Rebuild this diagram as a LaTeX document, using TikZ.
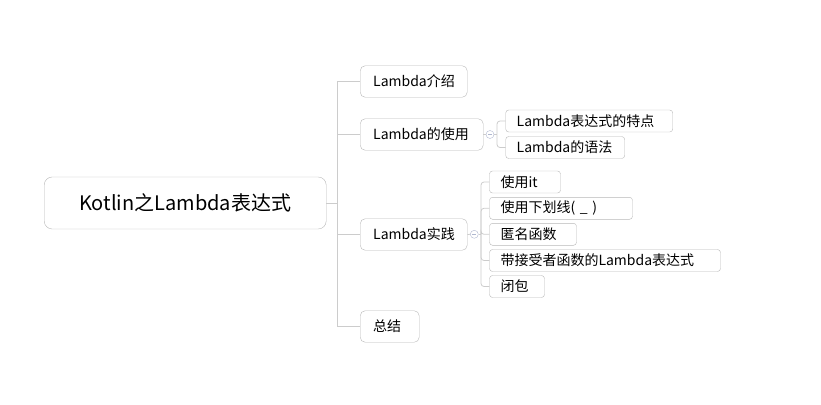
\documentclass[tikz,border=0pt]{standalone}
\usepackage{fontspec}
\setmainfont{Noto Sans CJK SC}
\usetikzlibrary{calc}

\definecolor{linea}{RGB}{204,204,204}
\definecolor{bordo}{RGB}{184,184,184}
\definecolor{cerchio}{RGB}{176,184,208}

\tikzset{
	radice/.style={draw=bordo, fill=white, rounded corners=8pt, anchor=west, inner sep=0pt, minimum height=52pt, font=\fontsize{20}{24}\selectfont},
	ramo/.style={draw=bordo, fill=white, rounded corners=5pt, anchor=west, inner xsep=13pt, inner ysep=0pt, minimum height=31.5pt, align=left, font=\fontsize{14}{16}\selectfont},
	foglia/.style={draw=bordo, fill=white, rounded corners=3pt, anchor=west, inner xsep=11pt, inner ysep=0pt, minimum height=22pt, align=left, font=\fontsize{14}{16}\selectfont},
	piega/.style={draw=cerchio, fill=white, circle, inner sep=0pt, minimum size=8pt},
	conn/.style={draw=linea, line width=0.8pt},
}

\begin{document}
\begin{tikzpicture}[x=1pt, y=-1pt]
			\useasboundingbox (0,0) rectangle (821,404);
			
			% Punti di diramazione
			\coordinate (tronco) at (337, 203);
			\coordinate (forkuso) at (497, 134.5);
			\coordinate (forkprat) at (481, 234.3);
			
			% Nodo radice
			\node[radice, minimum width=282pt] (radice) at (44, 203) {Kotlin之Lambda表达式};
			
			% Rami di primo livello (larghezza = text width + 26pt)
			\node[ramo, text width=81pt] (intro) at (360, 81.5) {Lambda介绍};
			\node[ramo, text width=97pt] (uso) at (360, 134.5) {Lambda的使用};
			\node[ramo, text width=81pt] (pratica) at (360, 234.5) {Lambda实践};
			\node[ramo, text width=33pt] (sommario) at (360, 326.5) {总结};
			
			% Foglie sotto "uso" (larghezza = text width + 22pt)
			\node[foglia, text width=145pt] (caratt) at (505.5, 121) {Lambda表达式的特点};
			\node[foglia, text width=97pt] (sintassi) at (505.5, 147.5) {Lambda的语法};
			
			% Foglie sotto "pratica"
			\node[foglia, text width=49pt] (usait) at (489.3, 182) {使用it};
			\node[foglia, text width=121pt] (trattino) at (489.3, 208.3) {使用下划线( \_ )};
			\node[foglia, text width=65pt] (anonima) at (489.3, 234.3) {匿名函数};
			\node[foglia, text width=209pt] (ricevente) at (489.3, 260.5) {带接受者函数的Lambda表达式};
			\node[foglia, text width=33pt] (chiusura) at (489.3, 286.5) {闭包};
			
			% Cerchi di chiusura (segno meno)
			\node[piega] (pieguso) at (490, 134.5) {};
			\node[piega] (piegprat) at (474.3, 234.3) {};
			\draw[cerchio, line width=0.6pt] ($(pieguso)+(-2,0)$) -- ($(pieguso)+(2,0)$);
			\draw[cerchio, line width=0.6pt] ($(piegprat)+(-2,0)$) -- ($(piegprat)+(2,0)$);
			
			% Collegamenti radice -> primo livello
			\draw[conn] (radice.east) -- (tronco);
			\draw[conn] (tronco) |- (intro.west);
			\draw[conn] (tronco) |- (uso.west);
			\draw[conn] (tronco) |- (pratica.west);
			\draw[conn] (tronco) |- (sommario.west);
			
			% Collegamenti primo livello -> foglie
			\draw[conn] (uso.east) -- (pieguso.west);
			\draw[conn] (pieguso.east) -- (forkuso);
			\draw[conn, rounded corners=3pt] (forkuso) |- (caratt.west);
			\draw[conn, rounded corners=3pt] (forkuso) |- (sintassi.west);
			\draw[conn] (pratica.east) -- (piegprat.west);
			\draw[conn] (piegprat.east) -- (forkprat);
			\draw[conn, rounded corners=3pt] (forkprat) |- (usait.west);
			\draw[conn, rounded corners=3pt] (forkprat) |- (trattino.west);
			\draw[conn, rounded corners=3pt] (forkprat) |- (anonima.west);
			\draw[conn, rounded corners=3pt] (forkprat) |- (ricevente.west);
			\draw[conn, rounded corners=3pt] (forkprat) |- (chiusura.west);
		\end{tikzpicture}
\end{document}
